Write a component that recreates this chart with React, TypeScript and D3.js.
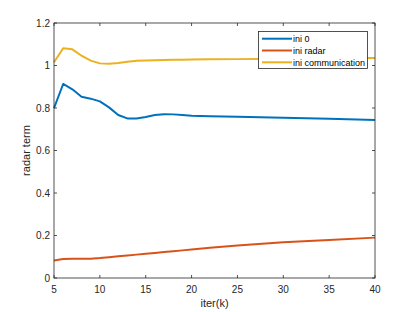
import React from "react";
import * as d3 from "d3";

const iters = [5, 6, 7, 8, 9, 10, 11, 12, 13, 14, 15, 16, 17, 18, 19, 20, 22, 25, 30, 35, 40];
const ini0 = [0.799, 0.913, 0.888, 0.853, 0.844, 0.831, 0.803, 0.767, 0.751, 0.751, 0.758, 0.767, 0.771, 0.77, 0.767, 0.764, 0.761, 0.759, 0.754, 0.749, 0.744];
const iniRadar = [0.082, 0.089, 0.091, 0.091, 0.091, 0.094, 0.098, 0.102, 0.106, 0.11, 0.114, 0.118, 0.122, 0.126, 0.13, 0.134, 0.142, 0.153, 0.168, 0.179, 0.19];
const iniComm = [1.015, 1.081, 1.076, 1.046, 1.023, 1.01, 1.008, 1.012, 1.018, 1.022, 1.024, 1.025, 1.026, 1.027, 1.027, 1.028, 1.029, 1.03, 1.032, 1.034, 1.035];
const seriesNames = ["ini 0", "ini radar", "ini communication"];
const colors = ["#0072BD", "#D95319", "#EDB120"];
const xTicks = [5, 10, 15, 20, 25, 30, 35, 40];
const yTicks = [0, 0.2, 0.4, 0.6, 0.8, 1, 1.2];

export default function App() {
  const W = 415, H = 312;
  const left = 54, right = 375, top = 23, bottom = 278;
  const x = d3.scaleLinear().domain([5, 40]).range([left, right]);
  const y = d3.scaleLinear().domain([0, 1.2]).range([bottom, top]);
  const line = d3.line<number>().x((_, i) => x(iters[i])).y(d => y(d));
  const all = [ini0, iniRadar, iniComm];
  const axisColor = "#262626";
  const font = "Liberation Sans, Arial, sans-serif";

  return (
    <svg width={W} height={H} style={{ position: "absolute", left: 0, top: 0, background: "#fff" }} fontFamily={font}>
      <rect x={0} y={0} width={W} height={H} fill="#fff" />
      {all.map((s, i) => (
        <path key={i} d={line(s) || ""} fill="none" stroke={colors[i]} strokeWidth={2} strokeLinejoin="round" />
      ))}
      <rect x={left} y={top} width={right - left} height={bottom - top} fill="none" stroke={axisColor} strokeWidth={0.8} />
      {xTicks.map(t => (
        <g key={"x" + t}>
          <line x1={x(t)} x2={x(t)} y1={bottom} y2={bottom - 3} stroke={axisColor} strokeWidth={0.8} />
          <line x1={x(t)} x2={x(t)} y1={top} y2={top + 3} stroke={axisColor} strokeWidth={0.8} />
          <text x={x(t)} y={bottom + 15} textAnchor="middle" fontSize={10} fill={axisColor}>{t}</text>
        </g>
      ))}
      {yTicks.map(t => (
        <g key={"y" + t}>
          <line x1={left} x2={left + 3} y1={y(t)} y2={y(t)} stroke={axisColor} strokeWidth={0.8} />
          <line x1={right} x2={right - 3} y1={y(t)} y2={y(t)} stroke={axisColor} strokeWidth={0.8} />
          <text x={left - 4} y={y(t) + 3.5} textAnchor="end" fontSize={10} fill={axisColor}>{t}</text>
        </g>
      ))}
      <text x={(left + right) / 2} y={307} textAnchor="middle" fontSize={11} fill={axisColor}>iter(k)</text>
      <text transform={`translate(30,${(top + bottom) / 2}) rotate(-90)`} textAnchor="middle" fontSize={11} fill={axisColor}>radar term</text>
      <g>
        <rect x={258.5} y={31.5} width={109} height={37} fill="#fff" stroke={axisColor} strokeWidth={0.8} />
        {seriesNames.map((n, i) => (
          <g key={n}>
            <line x1={262} x2={292} y1={38.7 + i * 11.8} y2={38.7 + i * 11.8} stroke={colors[i]} strokeWidth={2} />
            <text x={293} y={38.7 + i * 11.8 + 3.2} fontSize={9} fill="#000">{n}</text>
          </g>
        ))}
      </g>
    </svg>
  );
}
